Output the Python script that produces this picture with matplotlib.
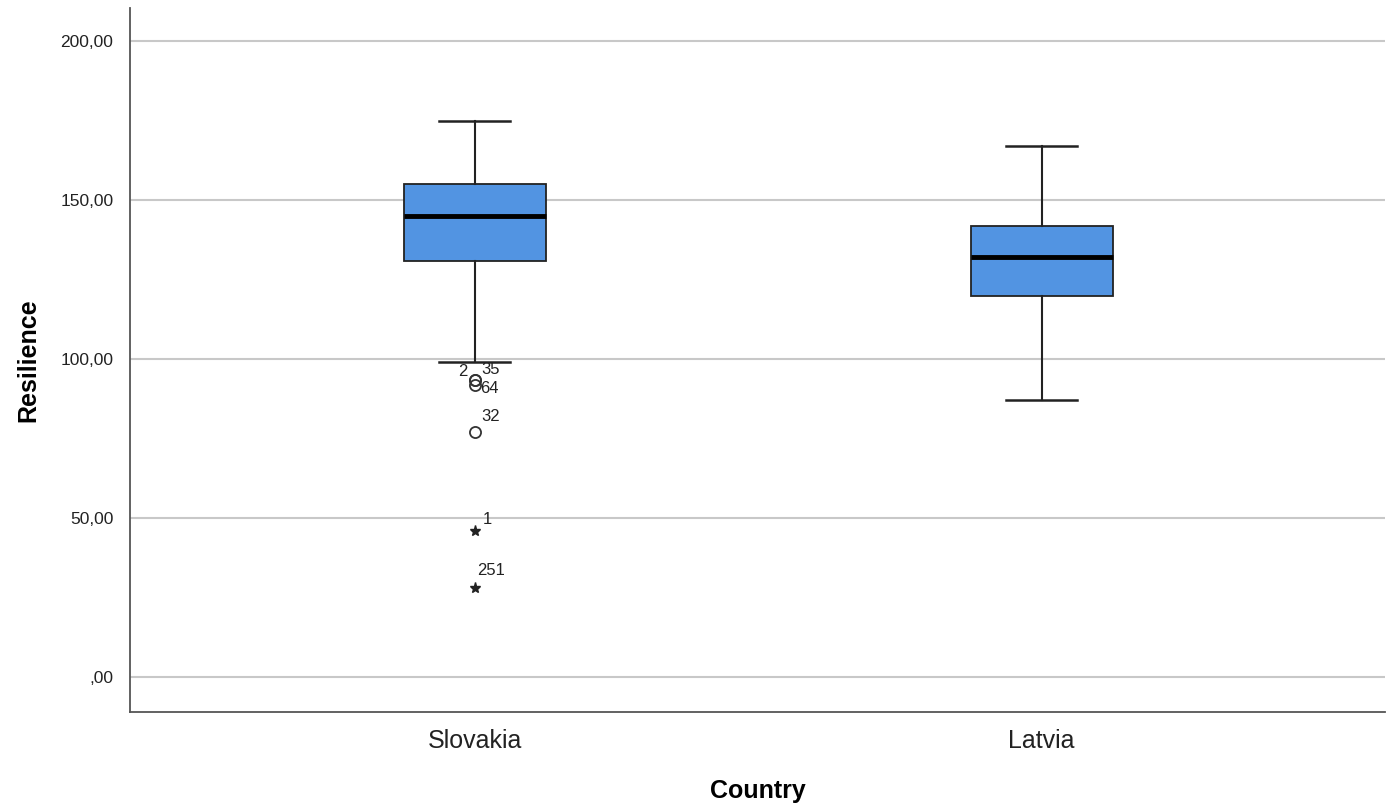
import matplotlib
matplotlib.use("Agg")
import matplotlib.pyplot as plt
from matplotlib.ticker import FuncFormatter

plt.rcParams['font.family'] = ['Liberation Sans', 'DejaVu Sans']

# data
countries = ["Slovakia", "Latvia"]
whisker_low = [99, 87]
q1 = [131, 120]
median = [145, 132]
q3 = [155, 142]
whisker_high = [175, 167]

# outliers (Slovakia only): case ids, values, kind
out_ids = ["2", "35", "64", "32", "1", "251"]
out_vals = [93.5, 93.5, 92, 77, 46, 28]
out_kind = ["o", "o", "o", "o", "*", "*"]
# label offsets in points, just to place the case numbers like SPSS does
label_off = [(-12, 3), (5, 4), (4, -6), (5, 8), (6, 5), (2, 9)]

yticks = [0, 50, 100, 150, 200]

box_color = "#5294e2"

fig = plt.figure(figsize=(13.91, 8.08), dpi=100)
ax = fig.add_axes([0.0935, 0.119, 0.902, 0.871])

stats = []
for i in range(len(countries)):
    stats.append({"med": median[i], "q1": q1[i], "q3": q3[i],
                  "whislo": whisker_low[i], "whishi": whisker_high[i],
                  "fliers": [], "label": countries[i]})

ax.bxp(stats, positions=range(len(countries)), widths=0.25, patch_artist=True,
       showfliers=False,
       boxprops=dict(facecolor=box_color, edgecolor="#222222", linewidth=1.3),
       medianprops=dict(color="black", linewidth=3.5),
       whiskerprops=dict(color="#222222", linewidth=1.5),
       capprops=dict(color="#222222", linewidth=1.8),
       capwidths=0.125, zorder=3)

for cid, v, k, off in zip(out_ids, out_vals, out_kind, label_off):
    if k == "o":
        ax.plot(0, v, marker="o", ms=8, mfc="none", mec="#333333", mew=1.3, zorder=4)
    else:
        ax.plot(0, v, marker="*", ms=8, color="#222222", zorder=4)
    ax.annotate(cid, (0, v), xytext=off, textcoords="offset points",
                fontsize=12, color="#222222", zorder=5)

ax.set_xlim(-0.608, 1.605)
ax.set_ylim(-11, 210.5)
ax.set_yticks(yticks)
ax.yaxis.set_major_formatter(FuncFormatter(
    lambda v, p: (",00" if v == 0 else f"{v:.2f}".replace(".", ","))))
ax.set_xticks(range(len(countries)))
ax.set_xticklabels(countries)
ax.grid(axis="y", color="#c8c8c8", linewidth=1.5, zorder=0)
ax.set_axisbelow(True)

for s in ["top", "right"]:
    ax.spines[s].set_visible(False)
for s in ["left", "bottom"]:
    ax.spines[s].set_color("#555555")
    ax.spines[s].set_linewidth(1.3)

ax.tick_params(axis="y", length=0, labelsize=12.5, labelcolor="#222222", pad=12)
ax.tick_params(axis="x", length=0, labelsize=18, labelcolor="#222222", pad=12)

ax.set_ylabel("Resilience", fontsize=18, fontweight="bold", labelpad=14)
ax.set_xlabel("Country", fontsize=18, fontweight="bold", labelpad=19)

fig.savefig("out.png", dpi=100)
